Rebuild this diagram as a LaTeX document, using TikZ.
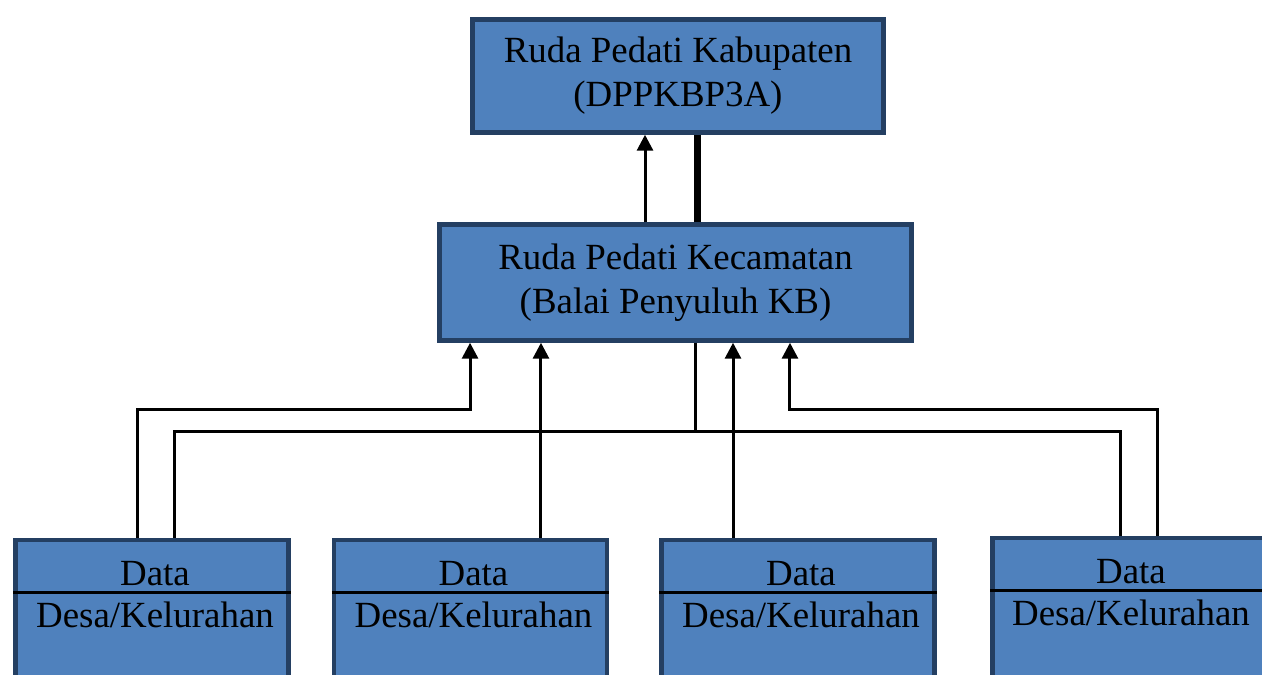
\documentclass[tikz,border=0pt]{standalone}
\usepackage{fontspec}
\setmainfont{Liberation Serif}
\usetikzlibrary{arrows.meta}
\definecolor{boxfill}{HTML}{4F81BD}
\definecolor{boxline}{HTML}{243F62}
\tikzset{
  box/.style={draw=boxline, fill=boxfill, line width=0.09cm, align=center, font=\fontsize{21}{25}\selectfont},
  desabox/.style={draw=boxline, fill=boxfill, line width=0.09cm, minimum width=5.46cm, minimum height=3cm, anchor=north},
  lbl/.style={font=\fontsize{21}{25}\selectfont, inner sep=0pt},
  sep/.style={line width=0.06cm},
  arr/.style={line width=0.06cm, -{Triangle[length=0.32cm,width=0.32cm]}},
  link/.style={line width=0.06cm},
  thickline/.style={line width=0.14cm},
}
\begin{document}
\begin{tikzpicture}[x=0.02cm, y=-0.02cm]
    \useasboundingbox (0,0) rectangle (1262,675);
    \clip (0,0) rectangle (1262,675);

    \node[box, minimum width=8.22cm, minimum height=2.26cm] (kab) at (678,76) {Ruda Pedati Kabupaten\\(DPPKBP3A)};
    \node[box, minimum width=9.44cm, minimum height=2.32cm] (kec) at (675.5,282.5) {Ruda Pedati Kecamatan\\(Balai Penyuluh KB)};

    \node[desabox] (desa1) at (152,538) {};
    \node[desabox] (desa2) at (470.5,538) {};
    \node[desabox] (desa3) at (798,538) {};
    \node[desabox] (desa4) at (1129,536) {};

    \node[lbl] (data1) at ([xshift=0.06cm,yshift=-0.72cm]desa1.north) {Data};
    \node[lbl] (kel1) at ([xshift=0.06cm,yshift=-1.54cm]desa1.north) {Desa/Kelurahan};
    \node[lbl] (data2) at ([xshift=0.06cm,yshift=-0.72cm]desa2.north) {Data};
    \node[lbl] (kel2) at ([xshift=0.06cm,yshift=-1.54cm]desa2.north) {Desa/Kelurahan};
    \node[lbl] (data3) at ([xshift=0.06cm,yshift=-0.72cm]desa3.north) {Data};
    \node[lbl] (kel3) at ([xshift=0.06cm,yshift=-1.54cm]desa3.north) {Desa/Kelurahan};
    \node[lbl] (data4) at ([xshift=0.04cm,yshift=-0.72cm]desa4.north) {Data};
    \node[lbl] (kel4) at ([xshift=0.04cm,yshift=-1.54cm]desa4.north) {Desa/Kelurahan};

    \draw[sep] ([yshift=-1.1cm]desa1.north west) -- ([yshift=-1.1cm]desa1.north east);
    \draw[sep] ([yshift=-1.1cm]desa2.north west) -- ([yshift=-1.1cm]desa2.north east);
    \draw[sep] ([yshift=-1.1cm]desa3.north west) -- ([yshift=-1.1cm]desa3.north east);
    \draw[sep] ([yshift=-1.1cm]desa4.north west) -- ([yshift=-1.1cm]desa4.north east);

    % kecamatan -> kabupaten
    \draw[arr] ([xshift=-0.61cm]kec.north) -- ([xshift=-0.61cm]kec.north |- kab.south);
    \draw[thickline] ([xshift=0.43cm]kec.north) -- ([xshift=0.43cm]kec.north |- kab.south);

    % desa -> kecamatan
    \draw[arr] ([xshift=-0.3cm]desa1.north) -- ++(0,-128) -| ([xshift=-4.11cm]kec.south);
    \draw[arr] ([xshift=1.41cm]desa2.north) -- ([xshift=1.41cm]desa2.north |- kec.south);
    \draw[arr] ([xshift=-1.3cm]desa3.north) -- ([xshift=-1.3cm]desa3.north |- kec.south);
    \draw[arr] ([xshift=0.56cm]desa4.north) -- ++(0,-126) -| ([xshift=2.29cm]kec.south);

    % kecamatan -> desa
    \draw[link] ([xshift=0.46cm]desa1.north) -- ++(0,-106) -| ([xshift=-0.18cm]desa4.north);
    \draw[link] ([xshift=0.39cm]kec.south) -- ++(0,87);
\end{tikzpicture}
\end{document}
